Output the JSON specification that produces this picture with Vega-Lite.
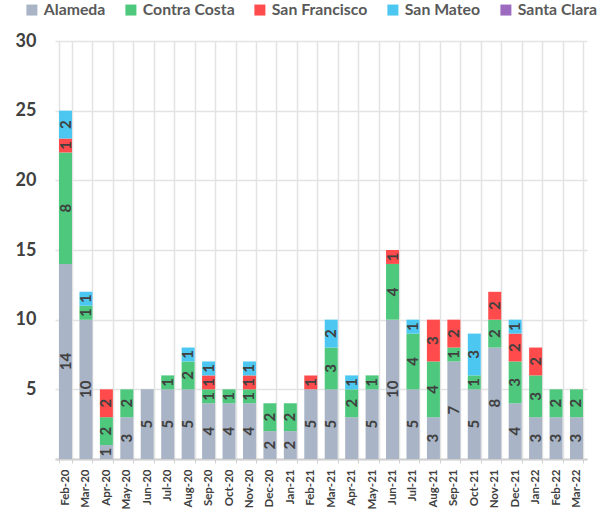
{
  "$schema": "https://vega.github.io/schema/vega-lite/v6.json",
  "autosize": {"type": "none"},
  "width": 532,
  "height": 418,
  "padding": {"left": 55, "top": 41, "right": 13, "bottom": 54},
  "background": "white",
  "config": {"view": {"stroke": null}, "font": "Lato"},
  "data": {"values": [
    {"m":"Feb-20","c":"Alameda","n":14},{"m":"Feb-20","c":"Contra Costa","n":8},{"m":"Feb-20","c":"San Francisco","n":1},{"m":"Feb-20","c":"San Mateo","n":2},
    {"m":"Mar-20","c":"Alameda","n":10},{"m":"Mar-20","c":"Contra Costa","n":1},{"m":"Mar-20","c":"San Mateo","n":1},
    {"m":"Apr-20","c":"Alameda","n":1},{"m":"Apr-20","c":"Contra Costa","n":2},{"m":"Apr-20","c":"San Francisco","n":2},
    {"m":"May-20","c":"Alameda","n":3},{"m":"May-20","c":"Contra Costa","n":2},
    {"m":"Jun-20","c":"Alameda","n":5},
    {"m":"Jul-20","c":"Alameda","n":5},{"m":"Jul-20","c":"Contra Costa","n":1},
    {"m":"Aug-20","c":"Alameda","n":5},{"m":"Aug-20","c":"Contra Costa","n":2},{"m":"Aug-20","c":"San Mateo","n":1},
    {"m":"Sep-20","c":"Alameda","n":4},{"m":"Sep-20","c":"Contra Costa","n":1},{"m":"Sep-20","c":"San Francisco","n":1},{"m":"Sep-20","c":"San Mateo","n":1},
    {"m":"Oct-20","c":"Alameda","n":4},{"m":"Oct-20","c":"Contra Costa","n":1},
    {"m":"Nov-20","c":"Alameda","n":4},{"m":"Nov-20","c":"Contra Costa","n":1},{"m":"Nov-20","c":"San Francisco","n":1},{"m":"Nov-20","c":"San Mateo","n":1},
    {"m":"Dec-20","c":"Alameda","n":2},{"m":"Dec-20","c":"Contra Costa","n":2},
    {"m":"Jan-21","c":"Alameda","n":2},{"m":"Jan-21","c":"Contra Costa","n":2},
    {"m":"Feb-21","c":"Alameda","n":5},{"m":"Feb-21","c":"San Francisco","n":1},
    {"m":"Mar-21","c":"Alameda","n":5},{"m":"Mar-21","c":"Contra Costa","n":3},{"m":"Mar-21","c":"San Mateo","n":2},
    {"m":"Apr-21","c":"Alameda","n":3},{"m":"Apr-21","c":"Contra Costa","n":2},{"m":"Apr-21","c":"San Mateo","n":1},
    {"m":"May-21","c":"Alameda","n":5},{"m":"May-21","c":"Contra Costa","n":1},
    {"m":"Jun-21","c":"Alameda","n":10},{"m":"Jun-21","c":"Contra Costa","n":4},{"m":"Jun-21","c":"San Francisco","n":1},
    {"m":"Jul-21","c":"Alameda","n":5},{"m":"Jul-21","c":"Contra Costa","n":4},{"m":"Jul-21","c":"San Mateo","n":1},
    {"m":"Aug-21","c":"Alameda","n":3},{"m":"Aug-21","c":"Contra Costa","n":4},{"m":"Aug-21","c":"San Francisco","n":3},
    {"m":"Sep-21","c":"Alameda","n":7},{"m":"Sep-21","c":"Contra Costa","n":1},{"m":"Sep-21","c":"San Francisco","n":2},
    {"m":"Oct-21","c":"Alameda","n":5},{"m":"Oct-21","c":"Contra Costa","n":1},{"m":"Oct-21","c":"San Mateo","n":3},
    {"m":"Nov-21","c":"Alameda","n":8},{"m":"Nov-21","c":"Contra Costa","n":2},{"m":"Nov-21","c":"San Francisco","n":2},
    {"m":"Dec-21","c":"Alameda","n":4},{"m":"Dec-21","c":"Contra Costa","n":3},{"m":"Dec-21","c":"San Francisco","n":2},{"m":"Dec-21","c":"San Mateo","n":1},
    {"m":"Jan-22","c":"Alameda","n":3},{"m":"Jan-22","c":"Contra Costa","n":3},{"m":"Jan-22","c":"San Francisco","n":2},
    {"m":"Feb-22","c":"Alameda","n":3},{"m":"Feb-22","c":"Contra Costa","n":2},
    {"m":"Mar-22","c":"Alameda","n":3},{"m":"Mar-22","c":"Contra Costa","n":2}
  ]},
  "transform": [
    {"stack": "n", "groupby": ["m"], "sort": [{"field": "c", "order": "ascending"}], "as": ["y0", "y1"]},
    {"calculate": "(datum.y0 + datum.y1) / 2", "as": "ym"}
  ],
  "encoding": {
    "x": {
      "field": "m", "type": "ordinal",
      "sort": ["Feb-20","Mar-20","Apr-20","May-20","Jun-20","Jul-20","Aug-20","Sep-20","Oct-20","Nov-20","Dec-20","Jan-21","Feb-21","Mar-21","Apr-21","May-21","Jun-21","Jul-21","Aug-21","Sep-21","Oct-21","Nov-21","Dec-21","Jan-22","Feb-22","Mar-22"],
      "scale": {"paddingInner": 0.364, "paddingOuter": 0.196},
      "axis": {
        "title": null, "labelAngle": -90, "labelFont": "Lato", "labelFontWeight": "bold", "labelFontSize": 11.5,
        "labelColor": "#404040", "labelPadding": 6, "domainColor": "#d0d0d0", "domainWidth": 2,
        "ticks": true, "tickColor": "#d0d0d0", "tickSize": 4, "tickBand": "extent",
        "grid": true, "gridColor": "#e3e3e3", "gridWidth": 1.5
      }
    }
  },
  "layer": [
    {
      "mark": {"type": "bar"},
      "encoding": {
        "y": {"field": "y1", "type": "quantitative",
          "scale": {"domain": [0, 30], "nice": false},
          "axis": {
            "title": null, "values": [0, 2.5, 5, 7.5, 10, 12.5, 15, 17.5, 20, 22.5, 25, 27.5, 30],
            "labelExpr": "datum.value % 5 == 0 && datum.value > 0 ? datum.label : ''",
            "gridColor": "#e3e3e3", "gridWidth": 1.5,
            "domain": false, "ticks": false, "labelFont": "Lato", "labelFontWeight": "bold", "labelFontSize": 18,
            "labelColor": "#404040", "labelPadding": 19
          }
        },
        "y2": {"field": "y0"},
        "color": {
          "field": "c", "type": "nominal",
          "scale": {
            "domain": ["Alameda", "Contra Costa", "San Francisco", "San Mateo", "Santa Clara"],
            "range": ["#a9b4c6", "#4dc87d", "#ff4b4b", "#4cc7f1", "#9c6bbf"]
          },
          "legend": {
            "title": null, "orient": "none", "direction": "horizontal", "legendX": -31, "legendY": -39,
            "symbolType": "square", "symbolSize": 121, "symbolStrokeWidth": 0, "labelFont": "Lato",
            "labelFontWeight": "bold", "labelFontSize": 15.8, "labelColor": "#595959", "columnPadding": 17,
            "labelOffset": 4, "labelLimit": 200
          }
        }
      }
    },
    {
      "transform": [{"filter": "!(datum.m == 'Apr-21' && datum.c == 'Alameda')"}],
      "mark": {"type": "text", "angle": 270, "font": "Lato", "fontWeight": "bold", "fontSize": 15, "color": "#404040", "baseline": "middle", "align": "center"},
      "encoding": {
        "y": {"field": "ym", "type": "quantitative"},
        "text": {"field": "n", "type": "quantitative"}
      }
    }
  ]
}
